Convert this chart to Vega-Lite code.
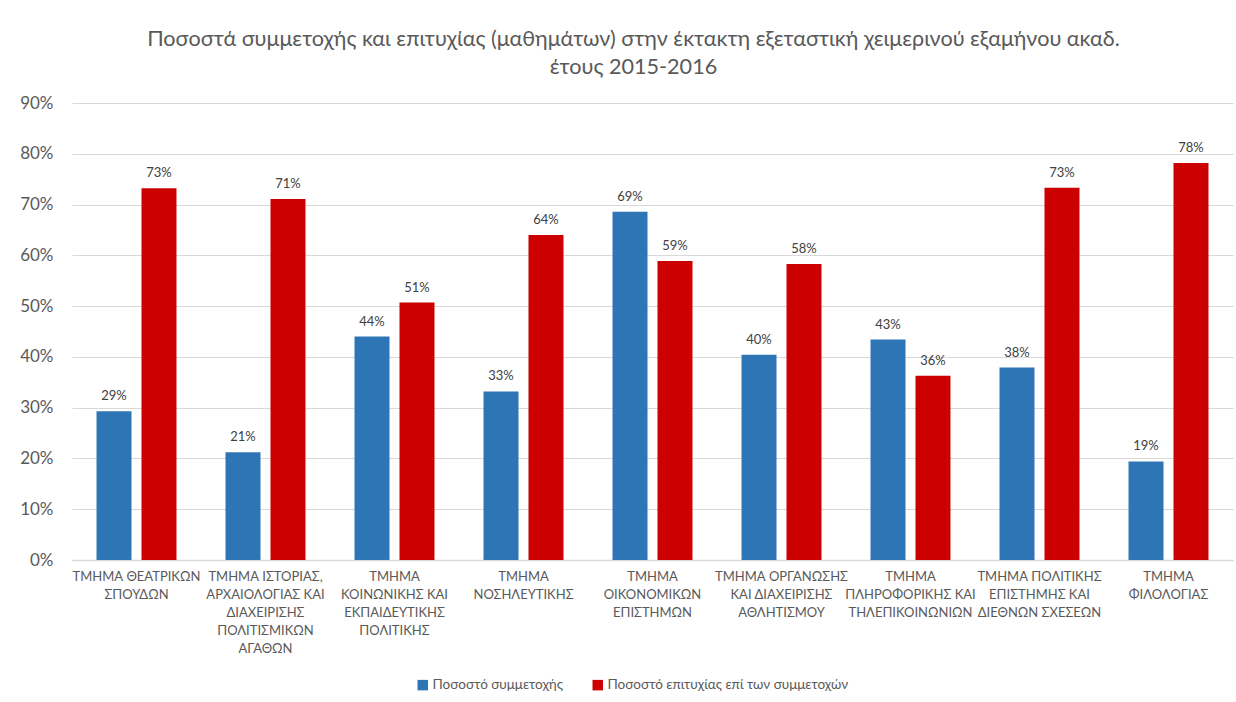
{
  "$schema": "https://vega.github.io/schema/vega-lite/v6.json",
  "width": 1161,
  "height": 457,
  "autosize": "none",
  "padding": {"left": 72, "top": 103, "right": 3, "bottom": 142},
  "background": "white",
  "title": {
    "text": ["Ποσοστά συμμετοχής και επιτυχίας (μαθημάτων) στην έκτακτη εξεταστική χειμερινού εξαμήνου ακαδ.", "έτους 2015-2016"],
    "font": "Lato",
    "fontSize": 21.6,
    "fontWeight": "normal",
    "color": "#595959",
    "lineHeight": 28,
    "anchor": "middle",
    "dx": -19,
    "offset": 15
  },
  "config": {
    "view": {"stroke": null},
    "font": "Lato"
  },
  "data": {
    "values": [
      {"dept": "ΤΜΗΜΑ ΘΕΑΤΡΙΚΩΝ|ΣΠΟΥΔΩΝ", "series": "Ποσοστό συμμετοχής", "value": 0.293},
      {"dept": "ΤΜΗΜΑ ΘΕΑΤΡΙΚΩΝ|ΣΠΟΥΔΩΝ", "series": "Ποσοστό επιτυχίας επί των συμμετοχών", "value": 0.732},
      {"dept": "ΤΜΗΜΑ ΙΣΤΟΡΙΑΣ,|ΑΡΧΑΙΟΛΟΓΙΑΣ ΚΑΙ|ΔΙΑΧΕΙΡΙΣΗΣ|ΠΟΛΙΤΙΣΜΙΚΩΝ|ΑΓΑΘΩΝ", "series": "Ποσοστό συμμετοχής", "value": 0.212},
      {"dept": "ΤΜΗΜΑ ΙΣΤΟΡΙΑΣ,|ΑΡΧΑΙΟΛΟΓΙΑΣ ΚΑΙ|ΔΙΑΧΕΙΡΙΣΗΣ|ΠΟΛΙΤΙΣΜΙΚΩΝ|ΑΓΑΘΩΝ", "series": "Ποσοστό επιτυχίας επί των συμμετοχών", "value": 0.711},
      {"dept": "ΤΜΗΜΑ|ΚΟΙΝΩΝΙΚΗΣ ΚΑΙ|ΕΚΠΑΙΔΕΥΤΙΚΗΣ|ΠΟΛΙΤΙΚΗΣ", "series": "Ποσοστό συμμετοχής", "value": 0.440},
      {"dept": "ΤΜΗΜΑ|ΚΟΙΝΩΝΙΚΗΣ ΚΑΙ|ΕΚΠΑΙΔΕΥΤΙΚΗΣ|ΠΟΛΙΤΙΚΗΣ", "series": "Ποσοστό επιτυχίας επί των συμμετοχών", "value": 0.507},
      {"dept": "ΤΜΗΜΑ|ΝΟΣΗΛΕΥΤΙΚΗΣ", "series": "Ποσοστό συμμετοχής", "value": 0.332},
      {"dept": "ΤΜΗΜΑ|ΝΟΣΗΛΕΥΤΙΚΗΣ", "series": "Ποσοστό επιτυχίας επί των συμμετοχών", "value": 0.640},
      {"dept": "ΤΜΗΜΑ|ΟΙΚΟΝΟΜΙΚΩΝ|ΕΠΙΣΤΗΜΩΝ", "series": "Ποσοστό συμμετοχής", "value": 0.686},
      {"dept": "ΤΜΗΜΑ|ΟΙΚΟΝΟΜΙΚΩΝ|ΕΠΙΣΤΗΜΩΝ", "series": "Ποσοστό επιτυχίας επί των συμμετοχών", "value": 0.589},
      {"dept": "ΤΜΗΜΑ ΟΡΓΑΝΩΣΗΣ|ΚΑΙ ΔΙΑΧΕΙΡΙΣΗΣ|ΑΘΛΗΤΙΣΜΟΥ", "series": "Ποσοστό συμμετοχής", "value": 0.404},
      {"dept": "ΤΜΗΜΑ ΟΡΓΑΝΩΣΗΣ|ΚΑΙ ΔΙΑΧΕΙΡΙΣΗΣ|ΑΘΛΗΤΙΣΜΟΥ", "series": "Ποσοστό επιτυχίας επί των συμμετοχών", "value": 0.583},
      {"dept": "ΤΜΗΜΑ|ΠΛΗΡΟΦΟΡΙΚΗΣ ΚΑΙ|ΤΗΛΕΠΙΚΟΙΝΩΝΙΩΝ", "series": "Ποσοστό συμμετοχής", "value": 0.434},
      {"dept": "ΤΜΗΜΑ|ΠΛΗΡΟΦΟΡΙΚΗΣ ΚΑΙ|ΤΗΛΕΠΙΚΟΙΝΩΝΙΩΝ", "series": "Ποσοστό επιτυχίας επί των συμμετοχών", "value": 0.363},
      {"dept": "ΤΜΗΜΑ ΠΟΛΙΤΙΚΗΣ|ΕΠΙΣΤΗΜΗΣ ΚΑΙ|ΔΙΕΘΝΩΝ ΣΧΕΣΕΩΝ", "series": "Ποσοστό συμμετοχής", "value": 0.379},
      {"dept": "ΤΜΗΜΑ ΠΟΛΙΤΙΚΗΣ|ΕΠΙΣΤΗΜΗΣ ΚΑΙ|ΔΙΕΘΝΩΝ ΣΧΕΣΕΩΝ", "series": "Ποσοστό επιτυχίας επί των συμμετοχών", "value": 0.733},
      {"dept": "ΤΜΗΜΑ|ΦΙΛΟΛΟΓΙΑΣ", "series": "Ποσοστό συμμετοχής", "value": 0.194},
      {"dept": "ΤΜΗΜΑ|ΦΙΛΟΛΟΓΙΑΣ", "series": "Ποσοστό επιτυχίας επί των συμμετοχών", "value": 0.782}
    ]
  },
  "encoding": {
    "x": {
      "field": "dept",
      "type": "nominal",
      "sort": null,
      "scale": {"paddingInner": 0.38, "paddingOuter": 0.19},
      "axis": {
        "title": null,
        "labelAngle": 0,
        "labelExpr": "split(datum.label, '|')",
        "labelFont": "Lato",
        "labelFontSize": 13,
        "labelLineHeight": 18,
        "labelColor": "#595959",
        "labelPadding": 10,
        "labelLimit": 300,
        "labelOverlap": false,
        "labelBound": false,
        "labelBaseline": "top",
        "ticks": false,
        "domain": true,
        "domainColor": "#D9D9D9",
        "domainWidth": 1.5,
        "grid": false
      }
    },
    "y": {
      "field": "value",
      "type": "quantitative",
      "scale": {"domain": [0, 0.9], "nice": false},
      "axis": {
        "title": null,
        "format": ".0%",
        "values": [0, 0.1, 0.2, 0.3, 0.4, 0.5, 0.6, 0.7, 0.8, 0.9],
        "labelFont": "Lato",
        "labelFontSize": 17,
        "labelColor": "#595959",
        "labelPadding": 19,
        "ticks": false,
        "domain": false,
        "grid": true,
        "gridColor": "#D9D9D9",
        "gridWidth": 1.2
      }
    },
    "xOffset": {
      "field": "series",
      "type": "nominal",
      "sort": ["Ποσοστό συμμετοχής", "Ποσοστό επιτυχίας επί των συμμετοχών"],
      "scale": {"paddingInner": 0.222, "paddingOuter": 0}
    }
  },
  "layer": [
    {
      "mark": {"type": "bar"},
      "encoding": {
        "color": {
          "field": "series",
          "type": "nominal",
          "sort": ["Ποσοστό συμμετοχής", "Ποσοστό επιτυχίας επί των συμμετοχών"],
          "scale": {"domain": ["Ποσοστό συμμετοχής", "Ποσοστό επιτυχίας επί των συμμετοχών"], "range": ["#2E75B6", "#CC0000"]},
          "legend": {
            "title": null,
            "orient": "none",
            "direction": "horizontal",
            "legendX": 344,
            "legendY": 575,
            "symbolType": "square",
            "symbolSize": 110,
            "symbolStrokeWidth": 0,
            "labelFont": "Lato",
            "labelFontSize": 13.5,
            "labelColor": "#595959",
            "labelOffset": 3,
            "columnPadding": 28,
            "labelLimit": 400
          }
        }
      }
    },
    {
      "mark": {"type": "text", "baseline": "bottom", "dy": -8, "font": "Lato", "fontSize": 13, "color": "#404040"},
      "encoding": {
        "text": {"field": "value", "type": "quantitative", "format": ".0%"}
      }
    }
  ]
}
